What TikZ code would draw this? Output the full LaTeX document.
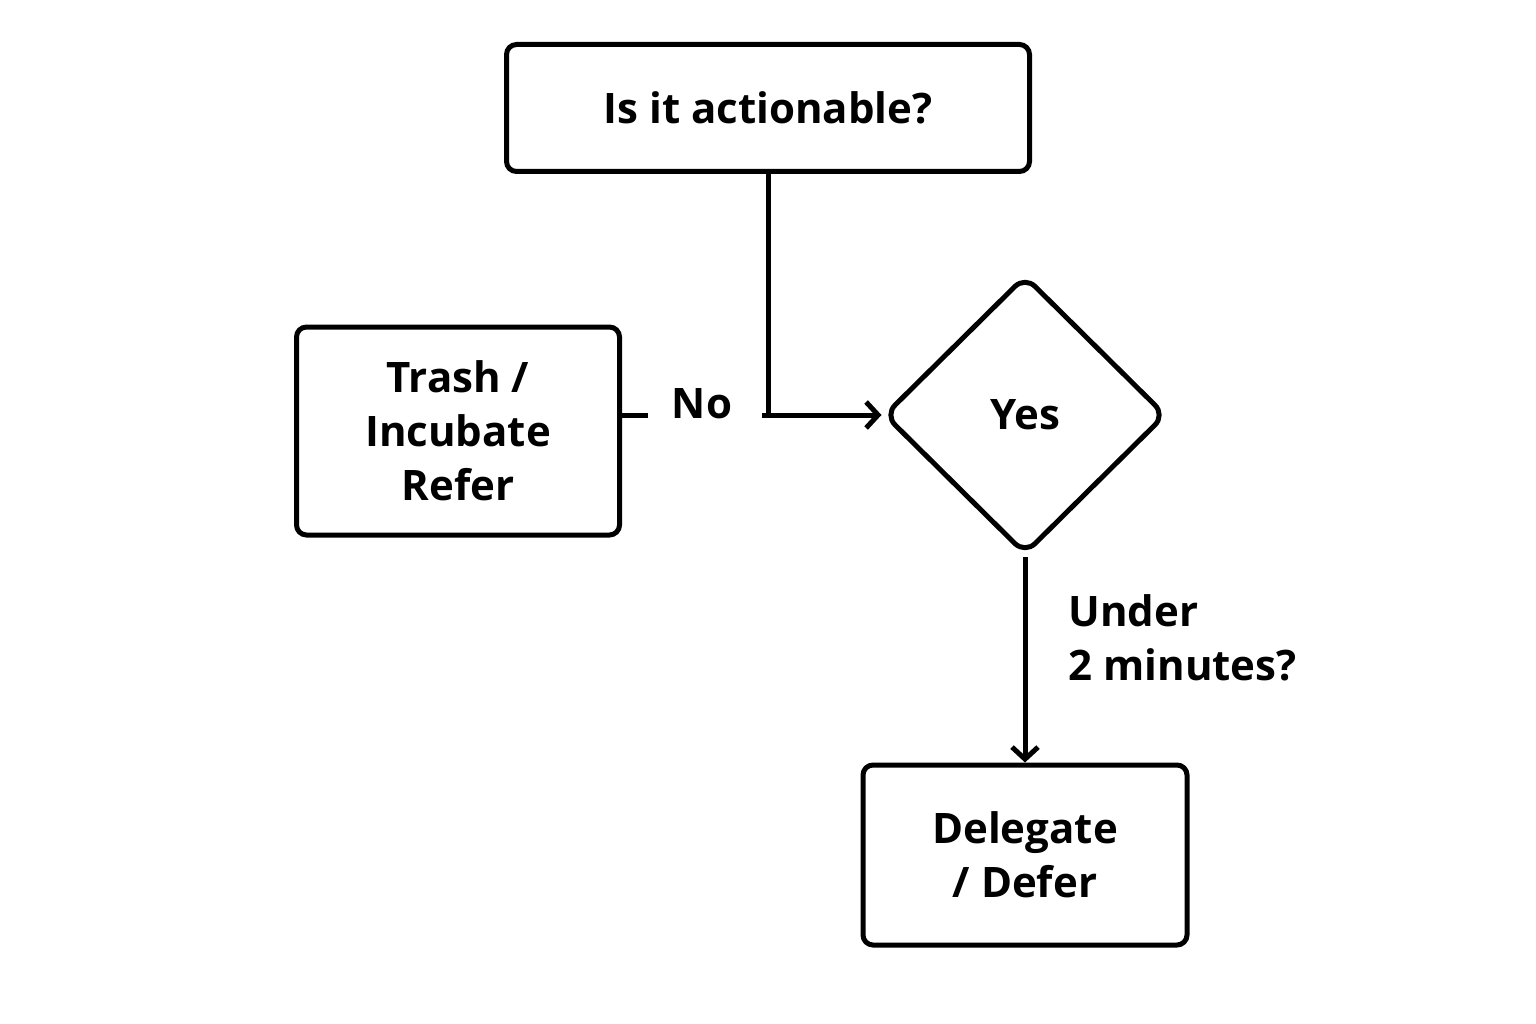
\documentclass[tikz,border=0pt]{standalone}
\usepackage{fontspec}
\setmainfont{Open Sans}
\usetikzlibrary{arrows.meta,shapes.geometric}
\tikzset{
  box/.style={draw,line width=5pt,rounded corners=10pt,align=center,font=\fontsize{42}{54}\selectfont\bfseries},
  decision/.style={draw,line width=5pt,diamond,rounded corners=14pt,font=\fontsize{42}{54}\selectfont\bfseries},
  link/.style={line width=5pt},
  arrow/.style={link,-{Straight Barb[length=12pt,width=26pt,line width=5pt]}},
  lbl/.style={font=\fontsize{42}{54}\selectfont\bfseries,align=left}
}
\begin{document}
\begin{tikzpicture}[scale=1.000000,x=1pt,y=1pt]
\useasboundingbox[fill=white] (0.000000,0.000000) rectangle (1536.000000,-1024.000000);
% Drawing boxes
\node[box,minimum width=523pt,minimum height=127pt] (actionable) at (768.000000,-108.000000) {Is it actionable?};
\node[box,minimum width=323pt,minimum height=208pt] (trash) at (458.000000,-431.000000) {Trash /\\Incubate\\Refer};
\node[decision,minimum width=282pt,minimum height=279pt,inner sep=0pt] (yes) at (1025.000000,-415.000000) {Yes};
\node[box,minimum width=324pt,minimum height=180pt] (delegate) at (1025.000000,-855.000000) {Delegate\\/ Defer};
% Done with boxes; drawing links
\coordinate (bend) at (768.000000,-415.000000);
\coordinate (stubend) at (648.000000,-415.000000);
\coordinate (nostart) at (762.000000,-415.000000);
\draw[link] (actionable.south) -- (bend);
\draw[arrow] (nostart) -- (yes.west);
\draw[link] (trash.east |- stubend) -- (stubend);
\node[lbl] (no) at (702.000000,-404.000000) {No};
\draw[arrow] (yes.south) -- (delegate.north);
\node[lbl,anchor=west] (under) at (1065.000000,-638.000000) {Under\\2 minutes?};
% Done with links
\end{tikzpicture}
\end{document}
